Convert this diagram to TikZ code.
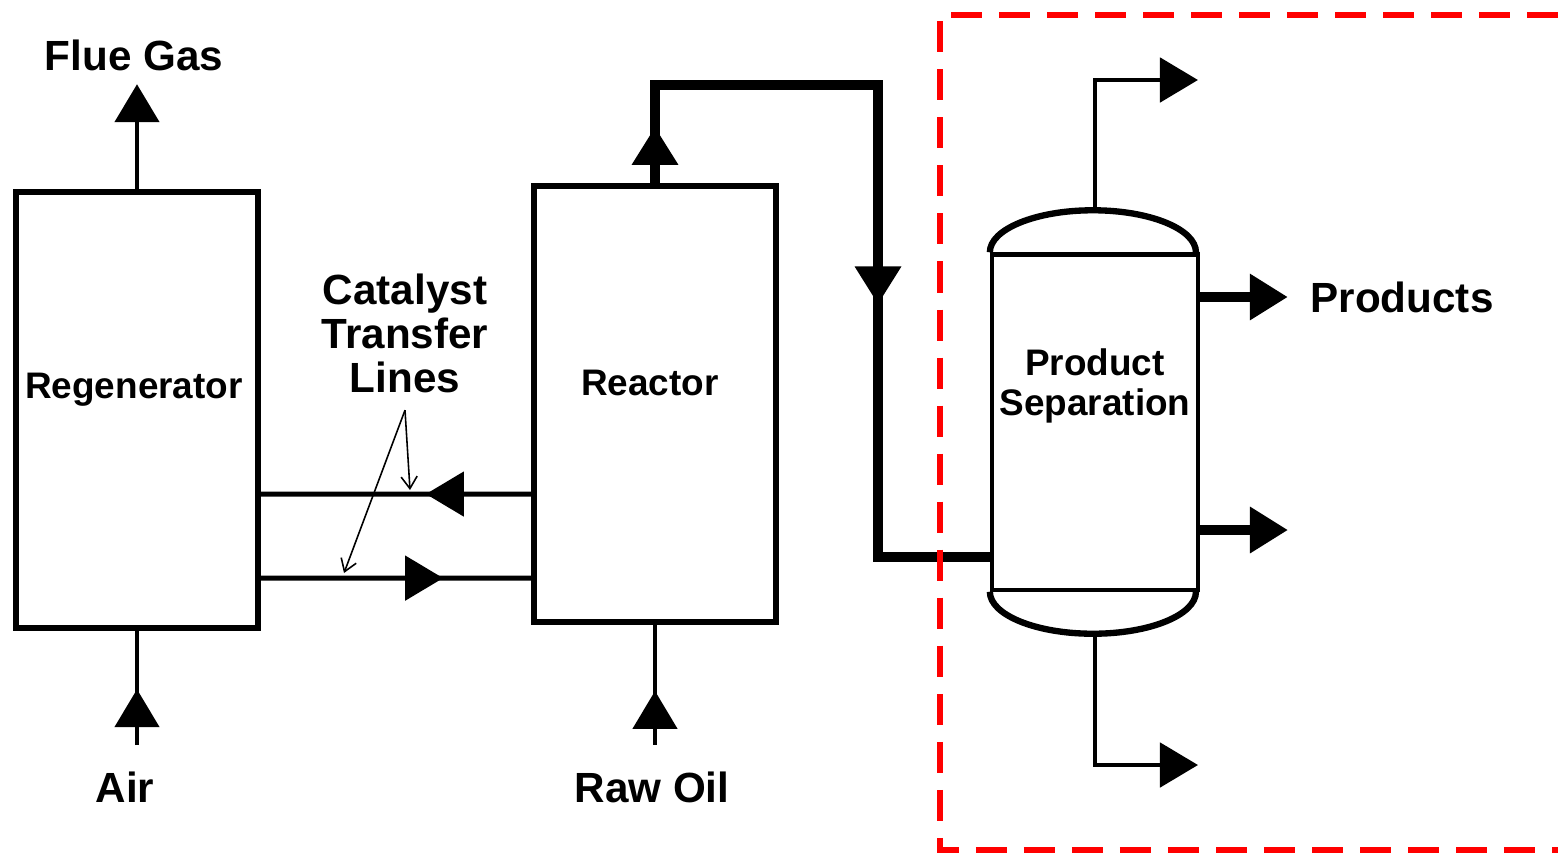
\documentclass[tikz,border=0pt]{standalone}
\usepackage{fontspec}
\setmainfont{Liberation Sans}
\usetikzlibrary{arrows.meta, decorations.markings}

\begin{document}
\begin{tikzpicture}[
    x=0.01cm, y=-0.01cm,
    tri/.tip={Triangle[length=0.38cm, width=0.44cm]},
    unit/.style={rectangle, draw=black, line width=1.7pt,
        minimum width=2.42cm, minimum height=4.36cm},
    vessel/.style={rectangle, draw=black, line width=1.2pt,
        minimum width=2.06cm, minimum height=3.35cm},
    head/.style={line width=1.8pt},
    boxtext/.style={font=\bfseries\fontsize{10.5}{11.3}\selectfont, align=center, inner sep=0pt},
    stream/.style={font=\bfseries\fontsize{12}{12.5}\selectfont, align=center, inner sep=0pt},
    feed/.style={line width=1.4pt},
    pipe/.style={line width=2.8pt},
    note/.style={line width=0.45pt, -{Straight Barb[length=0.12cm, width=0.16cm]}},
    midarrow/.style={postaction={decorate, decoration={markings,
        mark=at position #1 with {\arrow{tri}}}}},
    zone/.style={draw=red, line width=1.7pt, dash pattern=on 0.31cm off 0.17cm}
]
\useasboundingbox (0,0) rectangle (1558,854);

\node[unit] (regen) at (137,410) {};
\node[unit] (reactor) at (655,404) {};
\node[vessel] (sep) at (1095,422) {};

\node[boxtext] (regentext) at (134,390) {Regenerator};
\node[boxtext] (reactortext) at (650,383) {Reactor};
\node[boxtext] (septext) at (1095,386) {Product\\Separation};

\node[stream] (fluegas) at (134,55) {Flue Gas};
\node[stream] (air) at (125,787) {Air};
\node[stream] (rawoil) at (652,787) {Raw Oil};
\node[stream] (products) at (1402,297) {Products};
\node[stream] (catalyst) at (405,333) {Catalyst\\Transfer\\Lines};

\draw[head] (sep.north west) arc[start angle=180, end angle=0, x radius=1.03cm, y radius=0.42cm];
\draw[head] (sep.south west) arc[start angle=180, end angle=360, x radius=1.03cm, y radius=0.42cm];

\coordinate (sep top) at ([yshift=0.42cm]sep.north);
\coordinate (sep bottom) at ([yshift=-0.42cm]sep.south);
\coordinate (vapour) at (1198,80);
\coordinate (bottoms) at (1198,765);
\coordinate (sidedraw) at (1288,530);
\coordinate (upper line) at (410,490);
\coordinate (lower line) at (344,573);

\draw[feed, -{tri}] (regen.north) -- ([yshift=-0.13cm]regen.north |- fluegas.south);
\draw[feed, midarrow=0.49] ([yshift=0.26cm]regen.south |- air.north) -- (regen.south);
\draw[feed, midarrow=0.45] ([yshift=0.26cm]reactor.south |- rawoil.north) -- (reactor.south);

\draw[feed, midarrow=1.05cm] ([yshift=-0.9cm]reactor.west) -- ([yshift=-0.84cm]regen.east);
\draw[feed, midarrow=1.82cm] ([yshift=-1.68cm]regen.east) -- ([yshift=-1.74cm]reactor.west);

\draw[pipe, midarrow=0.56cm, midarrow=5.4cm] (reactor.north) |- (878,85) |- ([yshift=-1.35cm]sep.west);

\draw[feed, -{tri}] (sep top) |- (vapour);
\draw[feed, -{tri}] (sep bottom) |- (bottoms);
\draw[pipe, -{tri}] (sep.east |- products.west) -- ([xshift=-0.22cm]products.west);
\draw[pipe, -{tri}] (sep.east |- sidedraw) -- (sidedraw);

\draw[note] ([yshift=-0.17cm]catalyst.south) -- (upper line);
\draw[note] ([yshift=-0.17cm]catalyst.south) -- (lower line);

\draw[zone] (1558,15) -- (940,15) -- (940,850) -- (1558,850);
\end{tikzpicture}
\end{document}
